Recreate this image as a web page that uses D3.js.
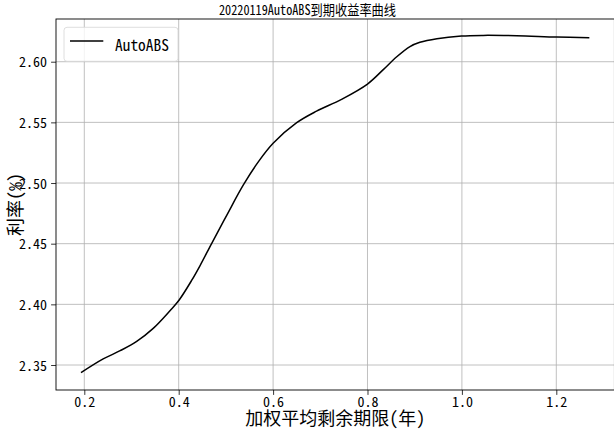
<!DOCTYPE html>
<html><head><meta charset="utf-8">
<script src="https://cdn.jsdelivr.net/npm/d3@7/dist/d3.min.js"></script>
<style>
html,body{margin:0;padding:0;background:#fff;}
svg{display:block;}
text{font-family:'Noto Sans Mono CJK SC','Noto Sans CJK SC','DejaVu Sans',sans-serif;fill:#000;}
</style></head>
<body>
<script>
const title = "20220119AutoABS到期收益率曲线";
const xLabel = "加权平均剩余期限(年)";
const yLabel = "利率(%)";
const seriesName = "AutoABS";
const xTicks = [0.2, 0.4, 0.6, 0.8, 1.0, 1.2];
const yTicks = [2.35, 2.40, 2.45, 2.50, 2.55, 2.60];
const tenor = [0.193,0.240,0.276,0.311,0.346,0.382,0.401,0.428,0.445,0.470,0.502,0.537,0.569,0.600,0.650,0.692,0.745,0.800,0.834,0.862,0.890,0.911,0.947,0.999,1.045,1.116,1.201,1.270];
const rate  = [2.3437,2.3550,2.3618,2.3695,2.3802,2.3950,2.4036,2.4201,2.4318,2.4503,2.4736,2.4984,2.5176,2.5327,2.5497,2.5592,2.5690,2.5816,2.5937,2.6041,2.6125,2.6160,2.6190,2.6212,2.6217,2.6214,2.6203,2.6198];

const W = 614, H = 430;
const L = 56, R = 614.4, T = 19, B = 390;
const svg = d3.select("body").append("svg").attr("width", W).attr("height", H);

const x = d3.scaleLinear().domain([0.14004, 1.3231]).range([L, R]);
const y = d3.scaleLinear().domain([2.3294, 2.6352]).range([B, T]);

// grid
const g = svg.append("g");
g.selectAll("line.gx").data(xTicks).enter().append("line")
  .attr("x1", d => x(d)).attr("x2", d => x(d)).attr("y1", T).attr("y2", B)
  .attr("stroke", "#b0b0b0").attr("stroke-width", 0.8);
g.selectAll("line.gy").data(yTicks).enter().append("line")
  .attr("x1", L).attr("x2", R).attr("y1", d => y(d)).attr("y2", d => y(d))
  .attr("stroke", "#b0b0b0").attr("stroke-width", 0.8);

// line
const pts = tenor.map((t, i) => [t, rate[i]]);
svg.append("path").datum(pts)
  .attr("fill", "none").attr("stroke", "#000").attr("stroke-width", 1.5)
  .attr("d", d3.line().x(d => x(d[0])).y(d => y(d[1])).curve(d3.curveCatmullRom.alpha(0.5)));

// axes
const xAxis = d3.axisBottom(x).tickValues(xTicks).tickFormat(d3.format(".1f")).tickSizeOuter(0).tickSize(4.9).tickPadding(4);
const yAxis = d3.axisLeft(y).tickValues(yTicks).tickFormat(d3.format(".2f")).tickSizeOuter(0).tickSize(4.9).tickPadding(4);
const gx = svg.append("g").attr("transform", `translate(0,${B})`).call(xAxis);
const gy = svg.append("g").attr("transform", `translate(${L},0)`).call(yAxis);
[gx, gy].forEach(a => {
  a.select(".domain").remove();
  a.selectAll("line").attr("stroke", "#000").attr("stroke-width", 0.8);
  a.selectAll("text").attr("font-size", 14).style("font-family", "'Noto Sans Mono CJK SC','Noto Sans CJK SC',sans-serif");
});
gx.selectAll("text").attr("dy", null).attr("y", 16.5);
gy.selectAll("text").attr("dy", "0.36em");

// spines
svg.append("rect").attr("x", L).attr("y", T).attr("width", R - L).attr("height", B - T)
  .attr("fill", "none").attr("stroke", "#000").attr("stroke-width", 0.9);

// legend
const lg = svg.append("g");
lg.append("rect").attr("x", 64).attr("y", 27.3).attr("width", 114).attr("height", 34).attr("rx", 3)
  .attr("fill", "#fff").attr("fill-opacity", 0.8).attr("stroke", "#d6d6d6").attr("stroke-width", 0.8);
lg.append("line").attr("x1", 70).attr("x2", 103.3).attr("y1", 41).attr("y2", 41)
  .attr("stroke", "#000").attr("stroke-width", 1.5);
lg.append("text").attr("x", 115).attr("y", 50.5).attr("font-size", 15.4).text(seriesName);

// title and labels
svg.append("text").attr("x", 307.5).attr("y", 15).attr("text-anchor", "middle").attr("font-size", 14)
  .attr("textLength", 177).attr("lengthAdjust", "spacingAndGlyphs").text(title);
svg.append("text").attr("x", (L + R) / 2).attr("y", 425).attr("text-anchor", "middle").attr("font-size", 18).text(xLabel);
svg.append("text").attr("transform", `translate(22,${(T + B) / 2}) rotate(-90)`).attr("text-anchor", "middle").attr("font-size", 18).text(yLabel);
</script>
</body></html>
